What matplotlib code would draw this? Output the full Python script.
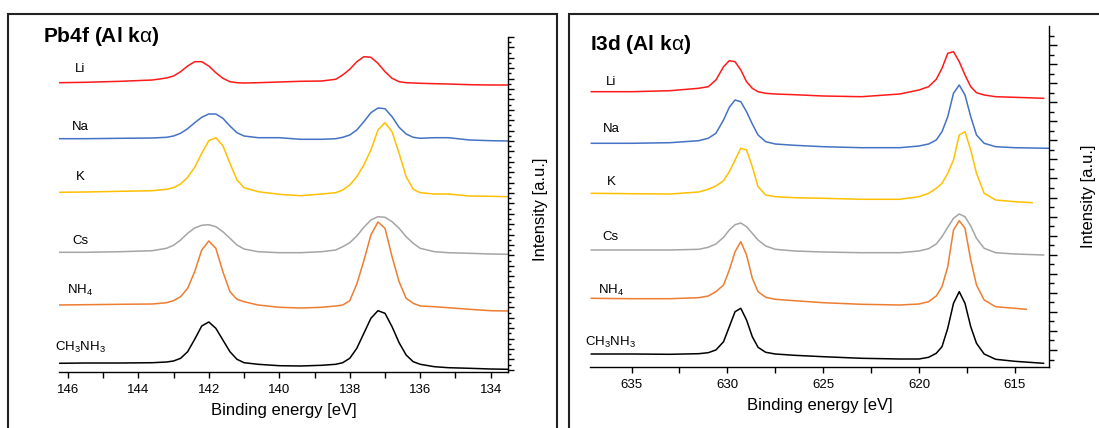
import matplotlib
matplotlib.use('Agg')
import matplotlib.pyplot as plt
from matplotlib.ticker import MultipleLocator
from matplotlib.patches import Rectangle

plt.rcParams['font.family'] = ['Liberation Sans', 'DejaVu Sans']
plt.rcParams['mathtext.fontset'] = 'custom'
plt.rcParams['mathtext.rm'] = 'Liberation Sans'
plt.rcParams['mathtext.it'] = 'Liberation Sans'

# series names / colours (same order in both panels)
names = ['Li', 'Na', 'K', 'Cs', r'$\mathregular{NH_4}$', r'$\mathregular{CH_3NH_3}$']
colors = ['#ff1a1a', '#4472c4', '#ffc000', '#a5a5a5', '#ed7d31', '#000000']

# ---- Pb4f panel (binding energy in eV, intensity offset a.u.)
pb_e = [146.25, 145.5, 144.5, 143.6, 143.2, 143.0, 142.8, 142.6, 142.4, 142.2,
        142.0, 141.8, 141.6, 141.4, 141.2, 141.0, 140.6, 140.0, 139.4, 138.8,
        138.4, 138.2, 138.0, 137.8, 137.6, 137.4, 137.2, 137.0, 136.8, 136.6,
        136.4, 136.2, 136.0, 135.6, 135.2, 134.6, 134.0, 133.5]
pb_li = [289.0, 289.4, 290.4, 291.7, 293.7, 295.7, 300.0, 305.7, 310.0, 310.0,
         305.7, 299.0, 293.4, 290.0, 289.0, 288.7, 289.0, 289.7, 290.4, 290.7,
         292.4, 296.7, 302.4, 310.0, 315.0, 314.4, 308.4, 300.0, 293.4, 290.0,
         289.0, 288.7, 288.4, 288.0, 287.7, 287.0, 286.7, 286.7]
pb_na = [233.0, 233.0, 233.4, 233.7, 234.4, 235.7, 238.4, 243.0, 249.0, 254.4,
         257.7, 257.7, 253.4, 245.7, 239.0, 235.7, 234.0, 234.0, 232.4, 232.4,
         233.0, 234.4, 236.7, 241.7, 250.0, 259.0, 263.7, 263.0, 255.0, 244.4,
         237.7, 234.4, 233.4, 234.0, 234.0, 231.7, 231.0, 230.7]
pb_k = [179.4, 179.7, 180.4, 181.0, 182.4, 184.0, 187.7, 194.4, 204.4, 218.4,
        231.0, 234.0, 226.0, 208.4, 191.7, 184.0, 180.0, 177.4, 176.0, 177.7,
        179.0, 181.7, 186.7, 195.0, 206.7, 221.7, 241.7, 249.0, 240.0, 218.4,
        195.0, 182.4, 179.0, 177.7, 177.7, 175.7, 175.4, 175.0]
pb_cs = [119.4, 119.4, 120.0, 121.0, 123.4, 126.4, 131.7, 138.4, 143.7, 146.4,
         147.0, 145.0, 140.0, 133.4, 126.7, 122.7, 120.0, 119.0, 119.0, 120.0,
         121.7, 125.0, 129.0, 135.7, 144.4, 151.7, 155.0, 154.4, 150.0, 143.4,
         135.0, 128.4, 123.4, 120.0, 119.0, 118.4, 117.7, 117.4]
pb_nh4 = [66.7, 67.0, 67.4, 67.7, 69.0, 71.0, 75.0, 83.4, 100.0, 121.7,
          130.7, 123.4, 100.0, 80.0, 72.4, 70.0, 66.7, 64.4, 63.7, 64.4,
          65.7, 66.7, 71.0, 87.7, 111.0, 136.7, 149.7, 143.4, 115.0, 90.0,
          73.4, 68.4, 65.7, 65.0, 64.0, 62.4, 61.0, 60.7]
pb_ma = [8.4, 8.7, 8.7, 9.0, 9.7, 10.7, 13.4, 20.0, 32.4, 45.7,
         49.7, 43.4, 31.7, 20.0, 12.4, 9.0, 7.4, 6.0, 5.7, 6.4,
         7.4, 9.0, 13.4, 23.4, 38.4, 53.4, 61.0, 58.4, 45.0, 29.0,
         16.7, 10.0, 7.4, 5.0, 4.0, 3.4, 2.7, 2.4]
pb_label_y = [302.7, 244.7, 194.7, 130.7, 81.7, 24.7]

# ---- I3d panel
i3_e = [637.1, 635.0, 633.0, 631.5, 631.0, 630.6, 630.2, 629.9, 629.6, 629.3,
        629.0, 628.7, 628.4, 628.0, 627.5, 626.5, 625.0, 623.0, 621.0, 620.0,
        619.5, 619.1, 618.8, 618.5, 618.2, 617.9, 617.6, 617.3, 617.0, 616.6,
        616.0, 615.0]
i3_li = [275.0, 275.0, 276.0, 278.4, 280.0, 286.7, 300.0, 306.0, 305.0, 296.7,
         285.0, 278.4, 275.0, 273.4, 272.7, 272.0, 270.7, 270.0, 272.7, 276.7,
         280.0, 287.4, 298.4, 313.4, 315.0, 305.0, 291.7, 280.0, 274.0, 271.7,
         270.0, 269.4]
i3_na = [223.4, 223.4, 224.0, 226.0, 228.4, 233.4, 246.7, 259.4, 266.7, 265.0,
         255.0, 242.7, 231.7, 225.0, 222.7, 221.4, 220.0, 219.0, 219.0, 220.7,
         222.7, 226.7, 235.0, 250.0, 273.4, 281.7, 271.7, 250.0, 231.7, 223.4,
         220.0, 219.0]
i3_k = [173.4, 173.0, 172.7, 174.7, 177.4, 180.7, 186.0, 195.0, 206.7, 218.4,
        216.7, 200.0, 180.0, 171.7, 170.0, 169.0, 168.4, 167.4, 167.4, 170.0,
        173.4, 178.4, 183.4, 193.4, 206.7, 231.7, 235.0, 216.7, 193.4, 173.4,
        166.7, 165.0]
i3_cs = [116.7, 116.7, 116.7, 117.4, 119.4, 122.7, 129.4, 136.7, 142.0, 143.7,
         140.0, 133.4, 126.7, 120.7, 117.4, 115.7, 114.7, 114.0, 114.0, 115.7,
         118.0, 122.7, 130.0, 139.4, 148.4, 152.7, 150.0, 140.7, 128.4, 118.4,
         114.0, 112.7]
i3_nh4 = [68.4, 68.0, 68.0, 69.0, 70.7, 75.0, 81.7, 96.7, 115.0, 125.0,
          111.7, 88.4, 75.0, 69.4, 67.4, 66.0, 64.0, 62.4, 61.7, 62.7,
          65.0, 70.7, 80.0, 100.0, 136.7, 146.0, 138.4, 106.7, 81.7, 66.7,
          60.0, 58.4]
i3_ma = [12.7, 12.7, 12.4, 13.0, 14.0, 16.7, 25.0, 40.0, 55.0, 58.4,
         46.7, 30.0, 19.4, 14.4, 12.7, 11.4, 10.0, 8.4, 7.7, 7.7,
         9.4, 13.4, 20.0, 38.4, 63.4, 75.0, 63.4, 40.0, 23.4, 12.7,
         7.4, 5.4]
# last point of each I3d scan (scans stop at different energies)
i3_end_e = [613.5, 613.2, 614.1, 613.5, 614.4, 613.5]
i3_end_v = [268.4, 218.4, 164.0, 111.7, 57.4, 3.4]
i3_label_y = [284.7, 237.7, 184.7, 129.7, 76.7, 24.7]

W, H = 1099, 428
fig = plt.figure(figsize=(W / 100, H / 100), dpi=100)

# panel boxes (open at the bottom)
fig.add_artist(Rectangle((8 / W, -0.1), 549.5 / W, 1.1 - 14 / H, transform=fig.transFigure,
                         fill=False, lw=1.5, ec='#222222'))
fig.add_artist(Rectangle((569 / W, -0.1), 0.6, 1.1 - 14 / H, transform=fig.transFigure,
                         fill=False, lw=1.5, ec='#222222'))

ax1 = fig.add_axes([59 / W, 56.3 / H, 449 / W, 334.7 / H])
ax2 = fig.add_axes([590 / W, 61.3 / H, 459.3 / W, 340.7 / H])


def style(ax, xmaj, xmin, ymaj, yoff, ylen):
    for s in ['left', 'top']:
        ax.spines[s].set_visible(False)
    for s in ['right', 'bottom']:
        ax.spines[s].set_linewidth(1.0)
    ax.xaxis.set_major_locator(MultipleLocator(xmaj))
    ax.xaxis.set_minor_locator(MultipleLocator(xmin))
    ax.yaxis.set_major_locator(MultipleLocator(ymaj, offset=yoff))
    ax.yaxis.set_minor_locator(MultipleLocator(ymaj / 2, offset=yoff))
    ax.tick_params(axis='x', which='both', direction='out', length=4, width=1,
                   labelsize=9.5, pad=5)
    ax.tick_params(axis='y', which='major', direction='out', length=ylen, width=1,
                   left=False, right=True, labelleft=False, labelright=False)
    ax.tick_params(axis='y', which='minor', direction='out', length=ylen * 0.55, width=1,
                   left=False, right=True, labelleft=False, labelright=False)


# Pb4f
for name, c, y, ly in zip(names, colors, [pb_li, pb_na, pb_k, pb_cs, pb_nh4, pb_ma], pb_label_y):
    ax1.plot(pb_e, y, color=c, lw=1.1)
    ax1.text(145.65, ly, name, ha='center', va='center', fontsize=9.5)
ax1.set_xlim(146.25, 133.51)
ax1.set_ylim(0, 334.7)
style(ax1, 2, 1, 10.4, 1.9, 4.5)
ax1.set_xlabel('Binding energy [eV]', fontsize=12, labelpad=5)
fig.text(43 / W, 1 - 36 / H, r'Pb4f (Al k$\alpha$)', fontsize=15, fontweight='bold',
         ha='left', va='center')
fig.text(540 / W, 1 - 209 / H, 'Intensity [a.u.]', rotation=90, fontsize=12,
         ha='center', va='center')

# I3d
i3_series = [i3_li, i3_na, i3_k, i3_cs, i3_nh4, i3_ma]
for i in range(6):
    ax2.plot(i3_e + [i3_end_e[i]], i3_series[i] + [i3_end_v[i]], color=colors[i], lw=1.1)
    ax2.text(636.08, i3_label_y[i], names[i], ha='center', va='center', fontsize=9.5)
ax2.set_xlim(637.17, 613.2)
ax2.set_ylim(0, 340.7)
style(ax2, 5, 2.5, 19.06, 16.7, 6)
ax2.set_xlabel('Binding energy [eV]', fontsize=12, labelpad=5)
fig.text(590 / W, 1 - 44 / H, r'I3d (Al k$\alpha$)', fontsize=15, fontweight='bold',
         ha='left', va='center')
fig.text(1088 / W, 1 - 196 / H, 'Intensity [a.u.]', rotation=90, fontsize=12,
         ha='center', va='center')

fig.savefig('out.png', dpi=100)
